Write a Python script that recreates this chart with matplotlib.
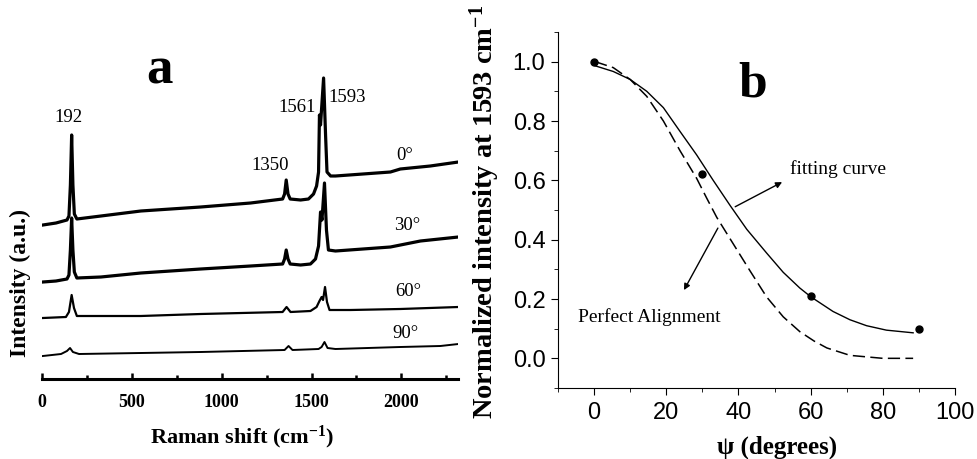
import matplotlib
matplotlib.use("Agg")
import matplotlib.pyplot as plt
from matplotlib.ticker import MultipleLocator

plt.rcParams.update({
    "font.family": ["Liberation Serif", "DejaVu Serif"],
    "mathtext.fontset": "custom",
    "mathtext.rm": "Liberation Serif",
    "mathtext.bf": "Liberation Serif:bold",
    "mathtext.it": "Liberation Serif:italic",
})

# --- panel a: Raman spectra (x in cm-1, intensity in a.u., offset stacked) ---
shift_0 = [5, 78, 139, 150, 158, 165, 172, 180, 194, 328, 550, 883, 1161, 1339, 1350,
           1359, 1369, 1381, 1439, 1483, 1511, 1528, 1539, 1544, 1550, 1567, 1578,
           1586, 1606, 1633, 1939, 1994, 2161, 2317]
int_0 = [154, 156, 159, 163, 194, 244, 194, 165, 160, 163, 168, 172, 176, 180, 185,
         199, 185, 180, 179, 180, 185, 193, 207, 264, 254, 301, 244,
         207, 203, 203, 207, 210, 213, 217]

shift_30 = [5, 78, 139, 150, 158, 165, 172, 180, 194, 328, 550, 883, 1161, 1339, 1350,
            1359, 1369, 1381, 1439, 1494, 1522, 1539, 1550, 1558, 1572, 1583, 1594,
            1633, 1939, 2106, 2317]
int_30 = [97, 98, 100, 104, 129, 161, 129, 107, 101, 102, 106, 110, 113, 115, 120,
          129, 120, 115, 114, 115, 120, 133, 167, 159, 196, 149, 129,
          128, 132, 138, 142]

shift_60 = [5, 133, 150, 165, 178, 194, 550, 883, 1339, 1361, 1383, 1494, 1528, 1544,
            1556, 1564, 1575, 1586, 1600, 1717, 1994, 2317]
int_60 = [61, 62, 67, 84, 71, 63, 63, 65, 67, 72, 67, 68, 72, 78,
          82, 79, 92, 77, 69, 69, 70, 72]

shift_90 = [5, 106, 139, 156, 172, 206, 550, 883, 1350, 1372, 1394, 1539, 1556, 1572,
            1589, 1633, 1994, 2217, 2317]
int_90 = [23, 25, 28, 31, 27, 25, 26, 27, 29, 33, 29, 30, 32, 37,
          31, 30, 32, 33, 35]

# --- panel b: normalized 1593 cm-1 intensity vs angle ---
psi_pts = [0, 30, 60, 90]
norm_pts = [1.0, 0.62, 0.21, 0.10]

psi_fit = [0.3, 5.3, 10, 14.6, 19.2, 23.8, 28.4, 33, 37.7, 42.3, 47.8, 52.4, 57,
           60.1, 66.2, 70.9, 75.5, 81, 88.4]
norm_fit = [0.986, 0.967, 0.94, 0.90, 0.845, 0.765, 0.686, 0.60, 0.515, 0.435, 0.355,
            0.29, 0.237, 0.207, 0.158, 0.13, 0.11, 0.095, 0.086]

psi_ideal = [0.3, 5.3, 10, 14.6, 19.2, 23.8, 28.4, 31.2, 34, 38.6, 43.2, 47.8, 52.4,
             57, 61, 64.5, 70.9, 80, 88.4]
norm_ideal = [1.0, 0.98, 0.94, 0.883, 0.80, 0.70, 0.607, 0.54, 0.475, 0.385, 0.295,
              0.207, 0.14, 0.09, 0.058, 0.035, 0.01, 0.0, 0.0]

W, H = 977, 459
fig = plt.figure(figsize=(W / 100, H / 100), dpi=100)


def fx(px):
    return px / W


def fy(py):
    return 1 - py / H


# ---- panel a ----
axa = fig.add_axes([fx(42), fy(379), fx(458) - fx(42), fy(60) - fy(379)])
axa.plot(shift_0, int_0, color="black", lw=2.3, solid_joinstyle="round")
axa.plot(shift_30, int_30, color="black", lw=2.3, solid_joinstyle="round")
axa.plot(shift_60, int_60, color="black", lw=1.6, solid_joinstyle="round")
axa.plot(shift_90, int_90, color="black", lw=1.4, solid_joinstyle="round")
axa.set_xlim(0, 2315)
axa.set_ylim(0, 319)
for s in ("top", "right", "left"):
    axa.spines[s].set_visible(False)
axa.spines["bottom"].set_linewidth(2.2)
axa.set_yticks([])
axa.xaxis.set_major_locator(MultipleLocator(500))
axa.xaxis.set_minor_locator(MultipleLocator(250))
axa.tick_params(axis="x", which="both", direction="in", width=1.8, pad=11,
                labelsize=13)
axa.tick_params(axis="x", which="major", length=4)
axa.tick_params(axis="x", which="minor", length=3.2)
for lab in axa.get_xticklabels():
    lab.set_fontweight("bold")

fig.text(fx(159), fy(70), "a", fontsize=38, fontweight="bold", ha="center", va="center")
fig.text(fx(68), fy(118), "192", fontsize=13.5, ha="center", va="center")
fig.text(fx(270), fy(165), "1350", fontsize=13.5, ha="center", va="center")
fig.text(fx(297), fy(108), "1561", fontsize=13.5, ha="center", va="center")
fig.text(fx(347), fy(97), "1593", fontsize=13.5, ha="center", va="center")
fig.text(fx(405), fy(155), "0°", fontsize=13.5, ha="center", va="center")
fig.text(fx(407), fy(225), "30°", fontsize=13.5, ha="center", va="center")
fig.text(fx(408), fy(292), "60°", fontsize=13.5, ha="center", va="center")
fig.text(fx(405), fy(333), "90°", fontsize=13.5, ha="center", va="center")
fig.text(fx(20), fy(283), "Intensity (a.u.)", fontsize=17, fontweight="bold",
         rotation=90, ha="center", va="center")
fig.text(fx(242), fy(437), r"Raman shift (cm$^{\mathbf{-1}}$)", fontsize=16,
         fontweight="bold", ha="center", va="center")

# ---- panel b ----
axb = fig.add_axes([fx(558), fy(388), fx(955) - fx(558), fy(32) - fy(388)])
axb.plot(psi_ideal, norm_ideal, color="black", lw=1.1, dashes=(8, 3.5))
axb.plot(psi_fit, norm_fit, color="black", lw=1.0)
axb.plot(psi_pts, norm_pts, "o", color="black", ms=5)
axb.set_xlim(-10, 100)
axb.set_ylim(-0.1, 1.1)
for s in ("top", "right"):
    axb.spines[s].set_visible(False)
axb.xaxis.set_major_locator(MultipleLocator(20))
axb.xaxis.set_minor_locator(MultipleLocator(10))
axb.yaxis.set_major_locator(MultipleLocator(0.2))
axb.yaxis.set_minor_locator(MultipleLocator(0.1))
axb.tick_params(which="both", direction="out", labelsize=17)
axb.tick_params(which="major", length=5)
axb.tick_params(which="minor", length=3)
axb.tick_params(axis="x", pad=5)
axb.tick_params(axis="y", pad=4)
for lab in axb.get_xticklabels() + axb.get_yticklabels():
    lab.set_fontfamily("Liberation Sans")

axb.annotate("", xy=(52.1, 0.594), xytext=(39.1, 0.511),
             arrowprops=dict(arrowstyle="-|>", lw=1.0, color="black",
                             mutation_scale=9, shrinkA=0, shrinkB=0))
axb.text(54.3, 0.638, "fitting curve", fontsize=14, ha="left", va="center")
axb.annotate("", xy=(24.9, 0.23), xytext=(34.3, 0.439),
             arrowprops=dict(arrowstyle="-|>", lw=1.0, color="black",
                             mutation_scale=9, shrinkA=0, shrinkB=0))
axb.text(-4.4, 0.139, "Perfect Alignment", fontsize=14, ha="left", va="center")

fig.text(fx(753), fy(85), "b", fontsize=37, fontweight="bold", ha="center", va="center")
fig.text(fx(485), fy(212), r"Normalized intensity at 1593 cm$^{\mathbf{-1}}$",
         fontsize=20.5, fontweight="bold", rotation=90, ha="center", va="center")
fig.text(fx(777), fy(447), "ψ (degrees)", fontsize=18, fontweight="bold",
         ha="center", va="center")

fig.savefig("out.png", dpi=100, facecolor="white")
